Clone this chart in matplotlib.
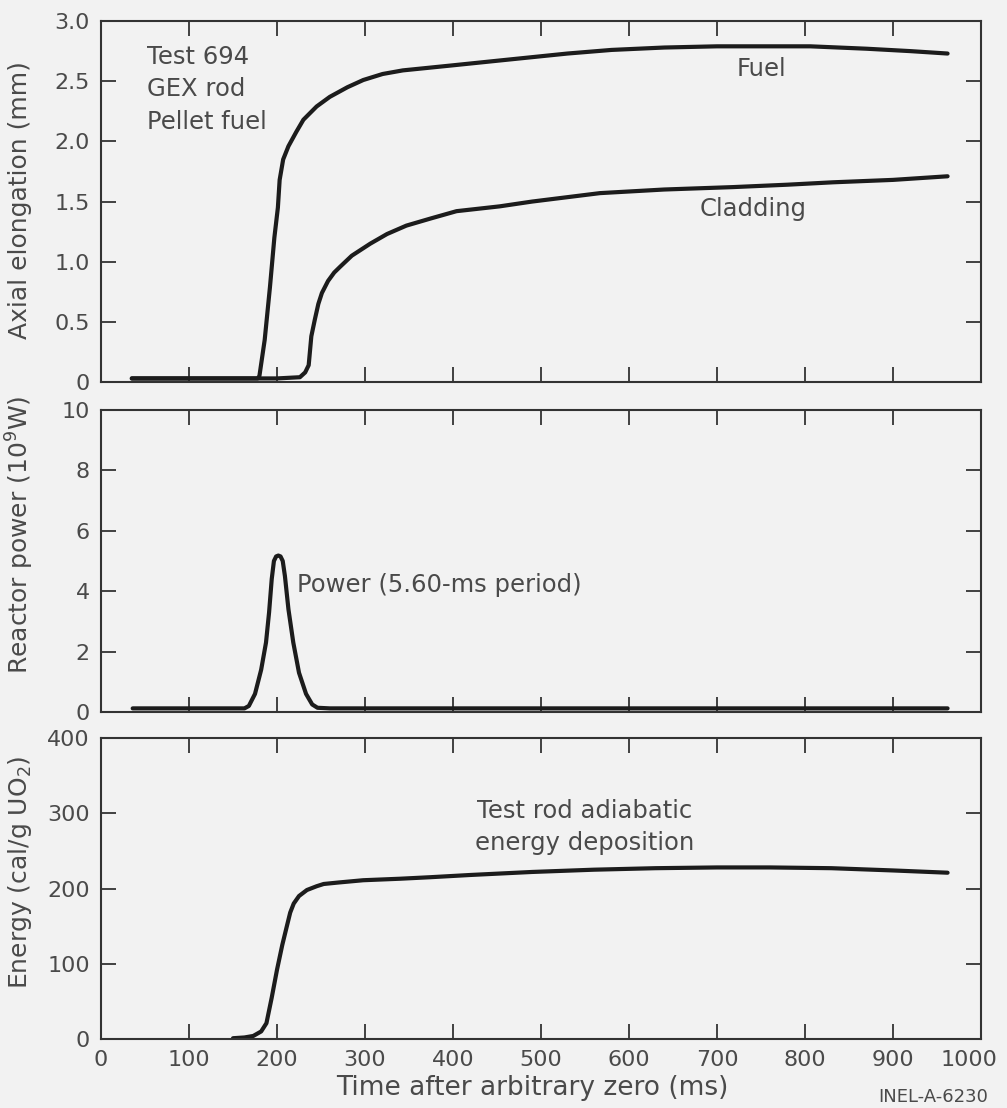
import numpy as np
import matplotlib.pyplot as plt
from matplotlib.transforms import ScaledTranslation

plt.rcParams['font.family'] = ['DejaVu Sans']

# fuel / cladding axial elongation (mm)
fuel_t = [35, 100, 178, 180, 186, 192, 197, 201, 203, 207, 213, 222, 230, 245, 260, 280, 298, 320,
          343, 370, 397, 450, 490, 530, 580, 640, 700, 760, 806, 870, 920, 962]
fuel_v = [0.03, 0.03, 0.03, 0.05, 0.35, 0.79, 1.20, 1.45, 1.68, 1.85, 1.96, 2.08, 2.18, 2.29, 2.37,
          2.45, 2.51, 2.56, 2.59, 2.61, 2.63, 2.67, 2.70, 2.73, 2.76, 2.78, 2.79, 2.79, 2.79, 2.77,
          2.75, 2.73]

clad_t = [35, 100, 200, 226, 232, 236, 239, 243, 247, 251, 258, 265, 272, 285, 306, 325, 347, 375,
          404, 453, 490, 567, 640, 718, 780, 832, 900, 962]
clad_v = [0.03, 0.03, 0.03, 0.04, 0.08, 0.14, 0.38, 0.52, 0.65, 0.74, 0.84, 0.91, 0.96, 1.05, 1.15,
          1.23, 1.30, 1.36, 1.42, 1.46, 1.50, 1.57, 1.60, 1.62, 1.64, 1.66, 1.68, 1.71]

# reactor power (10^9 W)
pow_t = [36, 100, 163, 168, 175, 182, 187.5, 191, 194, 196.5, 199, 201.5, 204, 206.5, 209, 213,
         218.5, 225, 233, 240, 246, 260, 500, 962]
pow_v = [0.12, 0.12, 0.12, 0.2, 0.6, 1.4, 2.3, 3.3, 4.4, 5.0, 5.15, 5.18, 5.15, 5.0, 4.5, 3.4,
         2.3, 1.3, 0.6, 0.25, 0.14, 0.12, 0.12, 0.12]

# energy deposition (cal/g UO2)
en_t = [150, 163, 173, 182, 188, 194, 200, 206, 211, 215, 219, 225, 234, 245, 253, 270, 298, 340,
        374, 420, 490, 560, 630, 700, 760, 830, 900, 962]
en_v = [1, 2, 4, 10, 21, 55, 92, 125, 149, 168, 180, 190, 198, 203, 206, 208, 211, 213, 215, 218,
        222, 225, 227, 228, 228, 227, 224, 221]

x_ticks = list(range(0, 1001, 100))
top_ticks = [0, 0.5, 1.0, 1.5, 2.0, 2.5, 3.0]
top_labels = ['0', '0.5', '1.0', '1.5', '2.0', '2.5', '3.0']
mid_ticks = [0, 2, 4, 6, 8, 10]
bot_ticks = [0, 100, 200, 300, 400]

bg = '#f2f2f2'
ink = '#1c1c1c'
txt = '#4a4a4a'
fs = 16     # tick labels
fa = 17.5   # annotations

fig = plt.figure(figsize=(10.07, 11.08), dpi=100, facecolor=bg)
L, W = 0.1003, 0.8739
ax1 = fig.add_axes([L, 0.6552, W, 0.981 - 0.6552])
ax2 = fig.add_axes([L, 0.3574, W, 0.6300 - 0.3574])
ax3 = fig.add_axes([L, 0.0623, W, 0.3339 - 0.0623])

for ax in (ax1, ax2, ax3):
    ax.set_facecolor(bg)
    ax.set_xlim(0, 1000)
    ax.set_xticks(x_ticks)
    ax.tick_params(direction='in', top=True, right=True, length=11, width=1.3,
                   color='#333333', labelcolor=txt, labelsize=fs, pad=8)
    for s in ax.spines.values():
        s.set_color('#333333')
        s.set_linewidth(1.5)

ax1.plot(fuel_t, fuel_v, color=ink, lw=3, solid_capstyle='round')
ax1.plot(clad_t, clad_v, color=ink, lw=3, solid_capstyle='round')
ax1.set_ylim(0, 3.0)
ax1.set_yticks(top_ticks)
ax1.set_yticklabels(top_labels)
ax1.set_xticklabels([])
ax1.text(0.052, 0.935, 'Test 694\nGEX rod\nPellet fuel', transform=ax1.transAxes,
         fontsize=fa, color=txt, va='top', ha='left', linespacing=1.45)
ax1.text(751, 2.60, 'Fuel', fontsize=fa, color=txt, ha='center', va='center')
ax1.text(741, 1.44, 'Cladding', fontsize=fa, color=txt, ha='center', va='center')

ax2.plot(pow_t, pow_v, color=ink, lw=3, solid_capstyle='round')
ax2.set_ylim(0, 10)
ax2.set_yticks(mid_ticks)
ax2.set_xticklabels([])
ax2.text(223, 4.2, 'Power (5.60-ms period)', fontsize=fa, color=txt, ha='left', va='center')

ax3.plot(en_t, en_v, color=ink, lw=3, solid_capstyle='round')
ax3.set_ylim(0, 400)
ax3.set_yticks(bot_ticks)
ax3.set_xticklabels([str(t) for t in x_ticks])
ax3.text(550, 282, 'Test rod adiabatic\nenergy deposition', fontsize=fa, color=txt,
         ha='center', va='center', linespacing=1.4)

# nudge the "1000" label left so it stays inside the figure
last = ax3.get_xticklabels()[-1]
last.set_transform(last.get_transform() + ScaledTranslation(-12 / 100, 0, fig.dpi_scale_trans))

fig.text(20 / 1007, 0.8195, 'Axial elongation (mm)', rotation=90, fontsize=18, color=txt,
         ha='center', va='center')
fig.text(20 / 1007, 0.517, 'Reactor power (10$^9$W)', rotation=90, fontsize=18, color=txt,
         ha='center', va='center')
fig.text(20 / 1007, 0.213, 'Energy (cal/g UO$_2$)', rotation=90, fontsize=18, color=txt,
         ha='center', va='center')
fig.text(532 / 1007, 0.018, 'Time after arbitrary zero (ms)', fontsize=19, color=txt,
         ha='center', va='center')
fig.text(0.981, 0.0099, 'INEL-A-6230', fontsize=13, color=txt, ha='right', va='center')

fig.savefig('out.png', dpi=100, facecolor=bg)
